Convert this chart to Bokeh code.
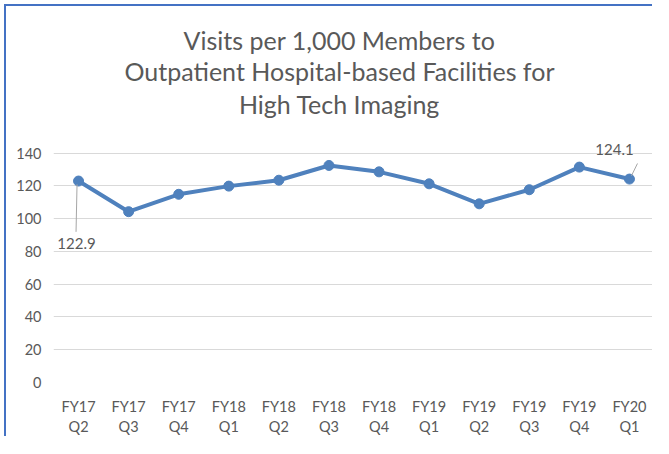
from bokeh.plotting import figure
from bokeh.models import Range1d, FixedTicker, Label, LabelSet, ColumnDataSource
from bokeh.core.properties import value
from bokeh.embed import file_html
from bokeh.resources import INLINE

title_lines = ["Visits per 1,000 Members to",
               "Outpatient Hospital-based Facilities for",
               "High Tech Imaging"]
quarters = ["FY17 Q2", "FY17 Q3", "FY17 Q4", "FY18 Q1", "FY18 Q2", "FY18 Q3",
            "FY18 Q4", "FY19 Q1", "FY19 Q2", "FY19 Q3", "FY19 Q4", "FY20 Q1"]
visits = [122.9, 104.2, 114.8, 119.8, 123.4, 132.4, 128.5, 121.2, 109.0, 117.6, 131.4, 124.1]
y_ticks = [0, 20, 40, 60, 80, 100, 120, 140]
labeled_idx = [0, 11]

FONT = "Lato"
GRAY = "#595959"
LINE = "#4F81BD"

idx = list(range(len(quarters)))

W, H = 648, 432
BL, BB = 47, 56
FRAME_H = H - BB
PX_PER_UNIT = 229.5 / 140.0
y_top = FRAME_H / PX_PER_UNIT   # frame extends above the data area to host the title

p = figure(width=W, height=H, output_backend="svg", toolbar_location=None,
           x_range=Range1d(-0.5, len(quarters) - 0.5),
           y_range=Range1d(y_ticks[0], y_top),
           min_border_left=BL, min_border_right=0, min_border_top=0, min_border_bottom=BB,
           styles={"border-left": "2px solid #4472C4", "border-top": "2px solid #4472C4",
                   "margin-left": "4px", "margin-top": "4px"})
p.outline_line_color = None
p.background_fill_color = "white"
p.border_fill_color = "white"

p.xgrid.grid_line_color = None
p.ygrid.grid_line_color = "#D9D9D9"
p.ygrid.grid_line_width = 1

p.yaxis.ticker = FixedTicker(ticks=y_ticks)
p.xaxis.ticker = FixedTicker(ticks=idx)
p.xaxis.major_label_overrides = {i: q.replace(" ", "\n") for i, q in zip(idx, quarters)}
for ax in (p.xaxis, p.yaxis):
    ax.axis_line_color = None
    ax.major_tick_line_color = None
    ax.minor_tick_line_color = None
    ax.major_label_text_color = GRAY
    ax.major_label_text_font = FONT
    ax.major_label_text_font_size = "14.5px"
p.yaxis.major_label_standoff = 6
p.xaxis.major_label_standoff = 9

src = ColumnDataSource(dict(x=idx, y=visits))
p.line("x", "y", source=src, line_color=LINE, line_width=4)
p.scatter("x", "y", source=src, size=10, fill_color=LINE, line_color=LINE)

# leader lines for data labels
i0, i1 = labeled_idx
p.segment(x0=[i0 - 0.03, i1 + 0.16], y0=[visits[i0] - 2, visits[i1] + 9.5],
          x1=[i0 - 0.05, i1 + 0.04], y1=[visits[i0] - 31, visits[i1] + 2],
          line_color="#A6A6A6", line_width=1)

lab = ColumnDataSource(dict(x=[i0, i1], y=[visits[i0], visits[i1]],
                            t=[f"{visits[i0]:.1f}", f"{visits[i1]:.1f}"],
                            xo=[-2, -15], yo=[-62, 30]))
p.add_layout(LabelSet(x="x", y="y", text="t", source=lab, x_offset="xo", y_offset="yo",
                      text_align="center", text_baseline="middle", text_color=GRAY,
                      text_font=value(FONT), text_font_size=value("15px")))

for line, d in zip(title_lines, [33, 64, 97]):
    p.add_layout(Label(x=286, y=FRAME_H - d, x_units="screen", y_units="screen", text=line,
                       text_align="center", text_baseline="alphabetic",
                       text_color=GRAY, text_font=FONT, text_font_size="25px"))

open("out.html", "w").write(file_html(p, INLINE))
